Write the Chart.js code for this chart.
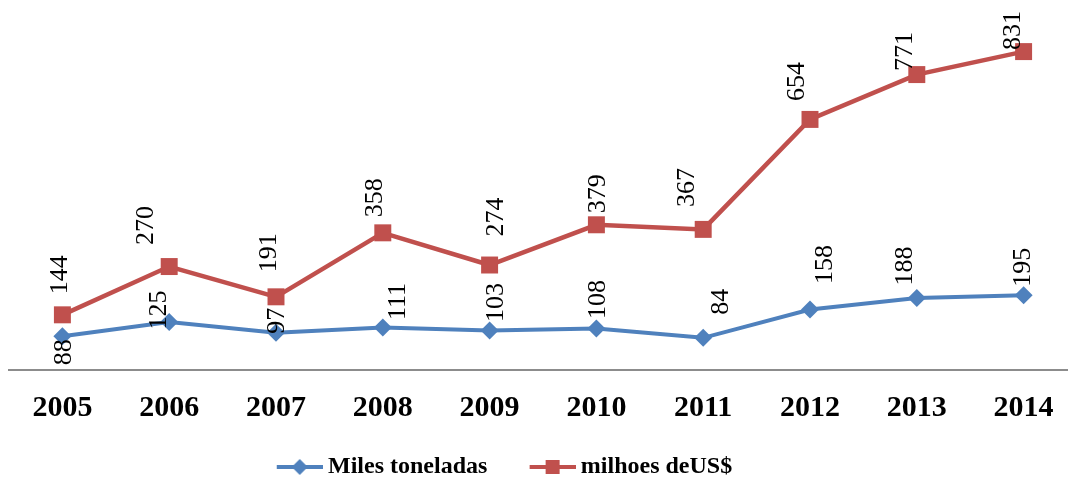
<!DOCTYPE html>
<html>
<head>
<meta charset="utf-8">
<script src="https://cdn.jsdelivr.net/npm/chart.js@4.4.1/dist/chart.umd.min.js"></script>
<style>
  html, body { margin: 0; padding: 0; background: #fff; overflow: hidden; }
  #chart { display: block; }
</style>
</head>
<body>
<canvas id="chart" width="1078" height="482"></canvas>
<script>
const years = ['2005', '2006', '2007', '2008', '2009', '2010', '2011', '2012', '2013', '2014'];
const milesToneladas = [88, 125, 97, 111, 103, 108, 84, 158, 188, 195];
const milhoesUS = [144, 270, 191, 358, 274, 379, 367, 654, 771, 831];

const BLUE = '#4F81BD';
const RED = '#C0504D';
const SERIF = '"Liberation Serif", "Times New Roman", serif';

// where each value label sits relative to its point (px)
const toneladasLabelShift = [[2, 16], [-10, -12], [1, -12], [15, -26], [7, -28], [2, -29], [18, -36], [15, -45], [-12, -32], [0, -28]];
const milhoesLabelShift = [[-2, -40], [-23, -41], [-7, -44], [-8, -35], [7, -48], [2, -31], [-16, -42], [-13, -38], [-12, -23], [-10, -21]];

// line + marker swatch for the legend
function legendSwatch(color, shape) {
  const c = document.createElement('canvas');
  c.width = 79; c.height = 20;
  const g = c.getContext('2d');
  g.strokeStyle = color;
  g.lineWidth = 4;
  g.beginPath(); g.moveTo(33, 10); g.lineTo(79, 10); g.stroke();
  g.fillStyle = color;
  if (shape === 'rect') {
    g.fillRect(49, 3, 14, 14);
  } else {
    g.beginPath();
    g.moveTo(56, 2); g.lineTo(64, 10); g.lineTo(56, 18); g.lineTo(48, 10);
    g.closePath(); g.fill();
  }
  return c;
}
const swatches = [legendSwatch(BLUE, 'diamond'), legendSwatch(RED, 'rect')];

const valueLabels = {
  id: 'valueLabels',
  afterDatasetDraw(chart, args) {
    const ds = chart.data.datasets[args.index];
    const ctx = chart.ctx;
    ctx.save();
    ctx.font = '26px ' + SERIF;
    ctx.fillStyle = '#000';
    ctx.textAlign = 'center';
    ctx.textBaseline = 'middle';
    args.meta.data.forEach((pt, i) => {
      const [dx, dy] = ds.labelShift[i];
      ctx.save();
      ctx.translate(pt.x + dx, pt.y + dy);
      ctx.rotate(-Math.PI / 2);
      ctx.fillText(String(ds.data[i]), 0, 0);
      ctx.restore();
    });
    ctx.restore();
  }
};

// legend sits a little left of centre and lower than chart.js puts it
const legendPlacement = {
  id: 'legendPlacement',
  afterLayout(chart) {
    const lg = chart.legend;
    const w = lg.right - lg.left;
    lg.left = 234.5;
    lg.right = lg.left + w;
    lg.top += 7;
    lg.bottom += 7;
  }
};

new Chart(document.getElementById('chart'), {
  type: 'line',
  data: {
    labels: years,
    datasets: [
      {
        label: 'Miles toneladas',
        data: milesToneladas,
        labelShift: toneladasLabelShift,
        borderColor: BLUE,
        backgroundColor: BLUE,
        borderWidth: 4,
        pointStyle: 'rectRot',
        pointRadius: 9,
        pointBorderWidth: 0,
        tension: 0,
        order: 1
      },
      {
        label: 'milhoes deUS$',
        data: milhoesUS,
        labelShift: milhoesLabelShift,
        borderColor: RED,
        backgroundColor: RED,
        borderWidth: 4.5,
        pointStyle: 'rect',
        pointRadius: 12,
        pointBorderWidth: 0,
        tension: 0,
        order: 0
      }
    ]
  },
  options: {
    responsive: false,
    animation: false,
    events: [],
    layout: { autoPadding: false, padding: { top: 6, left: 9, right: 1, bottom: 0 } },
    plugins: {
      legend: {
        position: 'bottom',
        align: 'start',
        labels: {
          usePointStyle: true,
          pointStyleWidth: 65.5,
          padding: 16,
          color: '#000',
          font: { family: SERIF, size: 24, weight: 'bold' },
          generateLabels(chart) {
            const items = Chart.defaults.plugins.legend.labels.generateLabels(chart);
            items.sort((a, b) => a.datasetIndex - b.datasetIndex);
            items.forEach(it => { it.pointStyle = swatches[it.datasetIndex]; });
            return items;
          }
        }
      },
      tooltip: { enabled: false }
    },
    scales: {
      x: {
        offset: true,
        grid: { display: false, drawTicks: false },
        border: { display: true, color: '#8c8c8c', width: 2 },
        ticks: {
          color: '#000',
          font: { family: SERIF, size: 30, weight: 'bold' },
          padding: 20,
          maxRotation: 0,
          autoSkip: false
        },
        afterFit(scale) { scale.height = 62; }
      },
      y: { display: false, min: 0, max: 950 }
    }
  },
  plugins: [valueLabels, legendPlacement]
});
</script>
</body>
</html>
